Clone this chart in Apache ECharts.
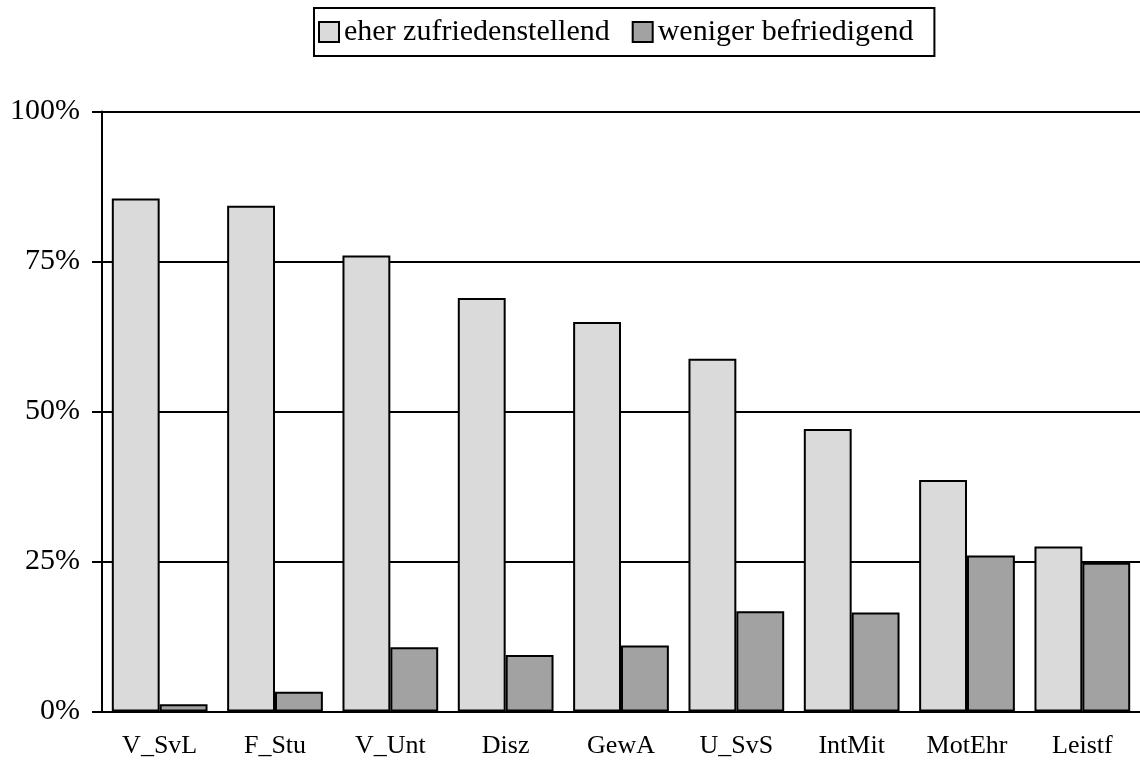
<!DOCTYPE html>
<html>
<head>
<meta charset="utf-8">
<script src="https://cdn.jsdelivr.net/npm/echarts@6/dist/echarts.min.js"></script>
<style>
html,body{margin:0;padding:0;background:#fff;}
#c{width:1140px;height:762px;}
</style>
</head>
<body>
<div id="c"></div>
<script>
var categories = ['V_SvL','F_Stu','V_Unt','Disz','GewA','U_SvS','IntMit','MotEhr','Leistf'];
var seriesNames = ['eher zufriedenstellend','weniger befriedigend'];
var zufrieden = [85.5, 84.3, 76.0, 68.9, 64.9, 58.8, 47.1, 38.6, 27.5];
var weniger = [1.2, 3.3, 10.7, 9.4, 11.0, 16.7, 16.5, 26.0, 24.8];
var yTicks = [0, 25, 50, 75, 100];

var FONT = 'Liberation Serif';
var chart = echarts.init(document.getElementById('c'));
chart.setOption({
  animation: false,
  backgroundColor: '#ffffff',
  textStyle: {fontFamily: FONT, color: '#000'},
  legend: {
    left: 314, top: 8,
    padding: [7, 21, 7, 4],
    borderColor: '#000', borderWidth: 2,
    itemWidth: 20, itemHeight: 20, itemGap: 22,
    icon: 'rect',
    textStyle: {fontFamily: FONT, fontSize: 30, lineHeight: 34, color: '#000'},
    data: seriesNames
  },
  grid: {left: 102, width: 1041, top: 111.5, height: 600, containLabel: false},
  xAxis: {
    type: 'category',
    data: categories,
    axisLine: {lineStyle: {color: '#000', width: 2}},
    axisTick: {inside: true, length: 7, lineStyle: {color: '#000', width: 2}},
    axisLabel: {fontFamily: FONT, fontSize: 26, color: '#000', margin: 22, interval: 0}
  },
  yAxis: {
    type: 'value',
    min: yTicks[0], max: yTicks[yTicks.length - 1], interval: 25,
    axisLine: {show: true, lineStyle: {color: '#000', width: 2}},
    axisTick: {show: true, length: 10, lineStyle: {color: '#000', width: 2}},
    axisLabel: {fontFamily: FONT, fontSize: 30, color: '#000', margin: 22, formatter: '{value}%'},
    splitLine: {lineStyle: {color: '#000', width: 2}}
  },
  series: [
    {
      name: seriesNames[0], type: 'bar', data: zufrieden,
      barGap: '0%', barCategoryGap: '17%',
      itemStyle: {color: '#dadada', borderColor: '#000', borderWidth: 2}
    },
    {
      name: seriesNames[1], type: 'bar', data: weniger,
      barGap: '0%', barCategoryGap: '17%',
      itemStyle: {color: '#a2a2a2', borderColor: '#000', borderWidth: 2}
    }
  ]
});
</script>
</body>
</html>
